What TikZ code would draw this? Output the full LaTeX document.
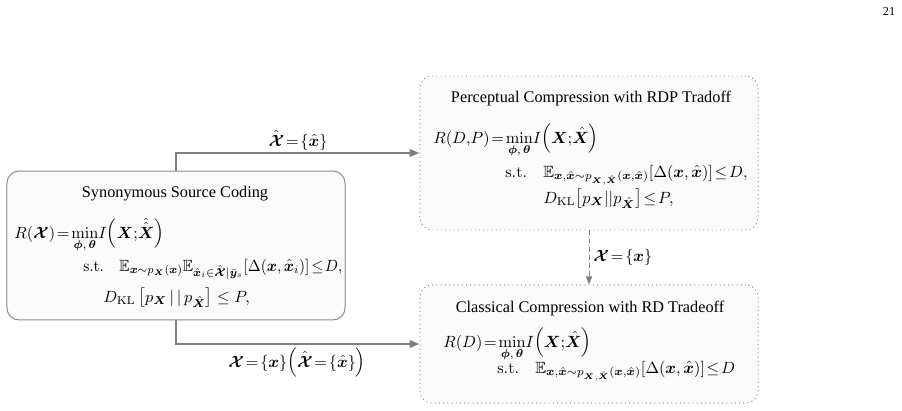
\documentclass[tikz,border=0pt]{standalone}
\usepackage{amsmath,amssymb,bm}
\usepackage[no-math]{fontspec}
\setmainfont{Liberation Serif}
\usetikzlibrary{arrows.meta}
\definecolor{boxfill}{HTML}{FAFAFA}
\definecolor{boxline}{HTML}{8A8A8A}
\definecolor{arrgray}{HTML}{7F7F7F}
\begin{document}
\begin{tikzpicture}[x=0.615pt,y=-0.615pt,
  solidbox/.style={draw=boxline, line width=0.6pt, fill=boxfill, rounded corners=7.4pt, minimum width=207.9pt, inner sep=0pt},
  dotbox/.style={draw=boxline, line width=0.6pt, dotted, fill=boxfill, rounded corners=7.4pt, minimum width=207.9pt, inner sep=0pt},
  txt/.style={inner sep=0pt, font=\fontsize{10}{12}\selectfont},
  arr/.style={draw=arrgray, line width=1.2pt, -{Triangle[length=6pt,width=4.6pt]}, color=arrgray},
  dasharr/.style={draw=arrgray, line width=0.6pt, dash pattern=on 3pt off 2pt, -{Triangle[length=5pt,width=3.8pt]}, color=arrgray}
]
\useasboundingbox (0,0) rectangle (902,410);
% page number
\node[txt, anchor=base, font=\fontsize{7.5}{9}\selectfont] (pg) at (889,16) {21};
% boxes
\node[solidbox, minimum height=91.6pt] (L) at (176,245.5) {};
\node[dotbox, minimum height=94.7pt] (TR) at (589,153) {};
\node[dotbox, minimum height=72.6pt] (BR) at (589,344) {};
% left box content
\node[txt, anchor=base] (Lt) at (175,197) {Synonymous Source Coding};
\node[txt, anchor=base west] (L1) at (14,238) {$R(\bm{\mathcal{X}})\!=\!\min\limits_{\bm{\phi},\,\bm{\theta}}\!I{\left(\bm{X}{;}\hat{\hat{\bm{X}}}\right)}$};
\node[txt, anchor=base west] (L2) at (83,271) {\scalebox{0.95}[1]{$\mathrm{s.t.}\quad \mathbb{E}_{\bm{x}\sim p_{\bm{X}}(\bm{x})}\mathbb{E}_{\hat{\bm{x}}_i\in\hat{\bm{\mathcal{X}}}|\bar{\bm{y}}_s}[\Delta(\bm{x},\hat{\bm{x}}_i)]\!\le\! D,$}};
\node[txt, anchor=base west] (L3) at (103,302) {$D_{\mathrm{KL}}\left[p_{\bm{X}}\,|\,|\,p_{\hat{\bm{X}}}\right]\le P,$};
% top right content
\node[txt, anchor=base] (Tt) at (591,102) {Perceptual Compression with RDP Tradoff};
\node[txt, anchor=base west] (T1) at (433,143) {$R(D,\!P)\!=\!\min\limits_{\bm{\phi},\,\bm{\theta}}\!I{\left(\bm{X}{;}\hat{\bm{X}}\right)}$};
\node[txt, anchor=base west] (T2) at (505,177) {$\mathrm{s.t.}\quad \mathbb{E}_{\bm{x},\hat{\bm{x}}\sim p_{\bm{X},\hat{\bm{X}}}(\bm{x},\hat{\bm{x}})}[\Delta(\bm{x},\hat{\bm{x}})]\!\le\! D,$};
\node[txt, anchor=base west] (T3) at (543,203) {$D_{\mathrm{KL}}{\left[p_{\bm{X}}||p_{\hat{\bm{X}}}\right]}\!\le\! P,$};
% bottom right content
\node[txt, anchor=base] (Bt) at (590,312) {Classical Compression with RD Tradeoff};
\node[txt, anchor=base west] (B1) at (443,347) {$R(D)\!=\!\min\limits_{\bm{\phi},\,\bm{\theta}}\!I{\left(\bm{X}{;}\hat{\bm{X}}\right)}$};
\node[txt, anchor=base west] (B2) at (497,373) {$\mathrm{s.t.}\quad \mathbb{E}_{\bm{x},\hat{\bm{x}}\sim p_{\bm{X},\hat{\bm{X}}}(\bm{x},\hat{\bm{x}})}[\Delta(\bm{x},\hat{\bm{x}})]\!\le\! D$};
% connectors
\draw[arr] (L.north) |- (TR.west);
\draw[arr] (L.south) |- (BR.west);
\draw[dasharr] (TR.south) -- (BR.north);
% connector labels
\node[txt, anchor=base] (a1) at (298,146) {$\hat{\bm{\mathcal{X}}}\!=\!\{\hat{\bm{x}}\}$};
\node[txt, anchor=base] (a2) at (297,367) {$\bm{\mathcal{X}}\!=\!\{\bm{x}\}{\left(\hat{\bm{\mathcal{X}}}\!=\!\{\hat{\bm{x}}\}\right)}$};
\node[txt, anchor=base west] (a3) at (593,261) {$\bm{\mathcal{X}}\!=\!\{\bm{x}\}$};
\end{tikzpicture}
\end{document}
